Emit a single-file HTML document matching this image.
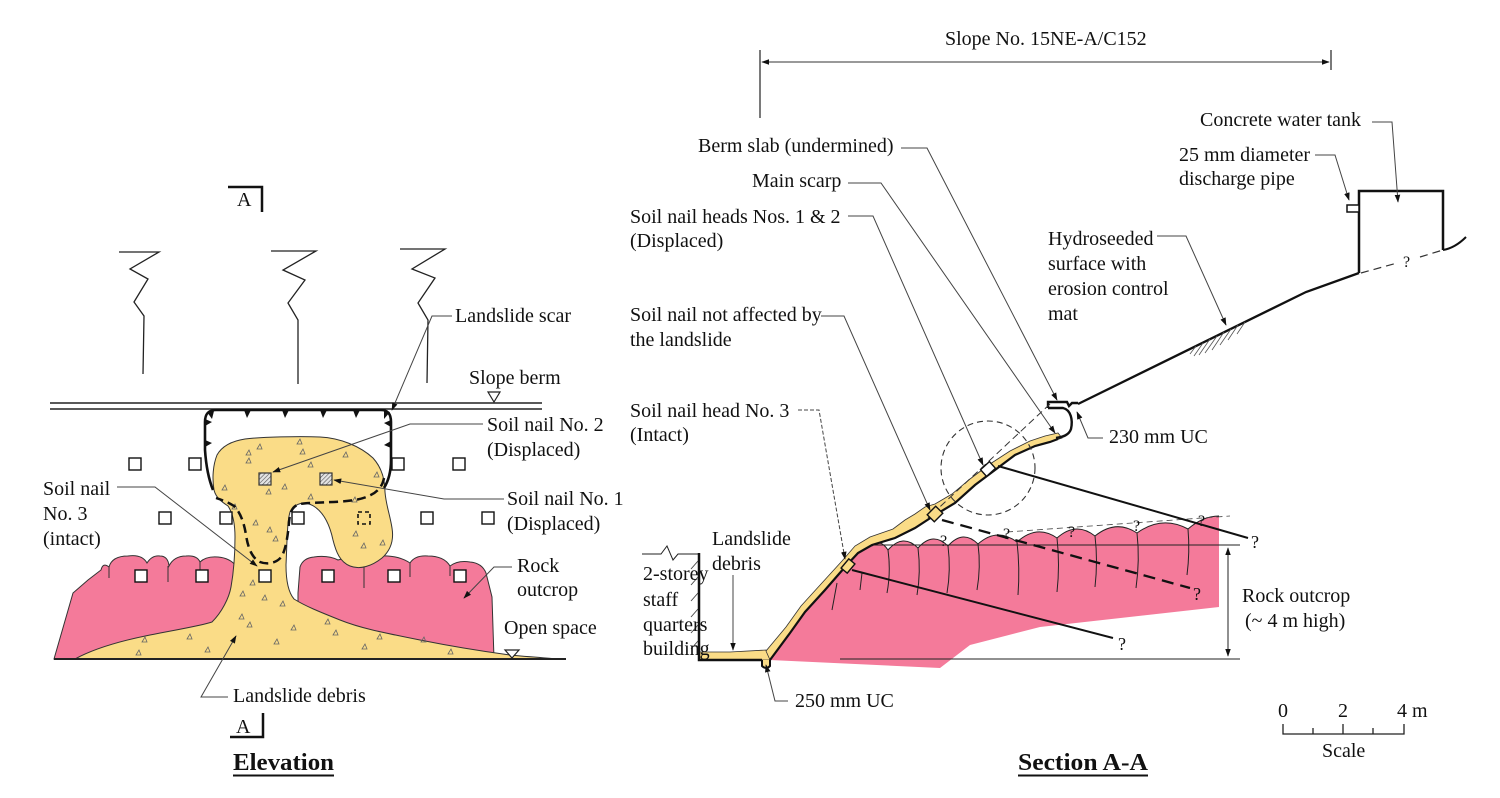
<!DOCTYPE html>
<html><head><meta charset="utf-8">
<style>
html,body{margin:0;padding:0;background:#fff;}
svg{display:block;}
text{font-family:"Liberation Serif","Times New Roman",serif;font-size:20px;fill:#111;}
.b{font-weight:bold;font-size:24px;}
.q{font-size:18px;}
.qs{font-size:16px;}
</style></head><body>
<svg width="1500" height="798" viewBox="0 0 1500 798" xmlns="http://www.w3.org/2000/svg">
<defs>
<marker id="ar" viewBox="0 0 10 10" refX="9" refY="5" markerWidth="8" markerHeight="8" orient="auto" markerUnits="userSpaceOnUse">
<path d="M0,1.5 L10,5 L0,8.5 z" fill="#111"/>
</marker>
<marker id="ars" viewBox="0 0 10 10" refX="1" refY="5" markerWidth="8" markerHeight="8" orient="auto" markerUnits="userSpaceOnUse">
<path d="M10,1.5 L0,5 L10,8.5 z" fill="#111"/>
</marker>
<pattern id="h" width="3" height="3" patternUnits="userSpaceOnUse" patternTransform="rotate(45)">
<rect width="3" height="3" fill="#e4e4e4"/><line x1="0" y1="0" x2="0" y2="3" stroke="#555" stroke-width="1.2"/>
</pattern>
</defs>
<rect width="1500" height="798" fill="#fff"/>

<!-- ================= ELEVATION ================= -->
<polyline points="228,187 262,187 262,212" fill="none" stroke="#111" stroke-width="2.5"/>
<text x="237" y="206">A</text>

<g fill="none" stroke="#222" stroke-width="1.3">
<polyline points="119,252 159,252 130,269 148,279 134,302 144,316 143,374"/>
<polyline points="271,251 316,251 283,270 305,280 288,303 298,320 298,384"/>
<polyline points="400,249 445,249 412,269 435,278 418,303 428,320 427,383"/>
</g>

<line x1="50" y1="403" x2="542" y2="403" stroke="#222" stroke-width="1.5"/>
<line x1="50" y1="409" x2="542" y2="409" stroke="#222" stroke-width="1.5"/>
<polygon points="488,392 500,392 494,402" fill="#fff" stroke="#222" stroke-width="1.2"/>

<path d="M54,659 L73,593 L88,580 L101,570 Q103,562 109,567 Q112,556 128,556 Q142,554 147,563 Q152,555 160,556 Q168,556 169,566 Q174,556 186,556 Q197,555 200,562 Q206,556 218,557 Q230,558 236,566 L236,659 Z" fill="#F47A9A" stroke="#333" stroke-width="1"/>
<path d="M298,659 L298,593 L300,567 Q303,558 314,557 Q328,555 338,560 Q350,556 360,563 Q364,556 380,556 Q398,555 410,563 Q415,555 428,556 Q444,556 450,566 Q458,560 470,562 Q482,563 486,573 L492,597 L494,659 Z" fill="#F47A9A" stroke="#333" stroke-width="1"/>
<g stroke="#333" stroke-width="1" fill="none">
<line x1="109" y1="567" x2="109" y2="578"/>
<line x1="168" y1="566" x2="168" y2="582"/>
<line x1="200" y1="562" x2="200" y2="571"/>
<line x1="364" y1="566" x2="364" y2="588"/>
<line x1="410" y1="563" x2="410" y2="577"/>
<line x1="450" y1="566" x2="450" y2="576"/>
</g>

<path d="M75,659 C95,648 125,640 150,635 C175,630 200,626 212,622 C222,612 229,598 231,587 C234,570 235,550 235,537 C235,522 232,512 228,506 C222,502 216,498 214,490 C212,478 213,465 217,455 C222,446 232,441 245,439 C260,437 300,436 320,437 C340,438 360,446 373,458 C382,468 385,480 385,492 C386,505 390,515 392,528 C394,540 391,550 382,558 C372,566 360,570 350,566 C340,562 336,552 333,540 C330,526 325,514 315,507 C305,500 295,503 290,512 C287,522 287,545 286,565 C286,580 288,592 294,599 C305,606 320,612 340,620 C360,628 380,632 420,640 C450,646 480,651 510,655 C530,657 548,658 559,659 Z" fill="#FADC87" stroke="#333" stroke-width="1"/>
<g fill="none" stroke="#666" stroke-width="0.8">
<path d="M246,455 l5,0 l-2,-5z"/><path d="M257,449 l5,0 l-2,-5z"/><path d="M297,444 l5,0 l-2,-5z"/><path d="M300,454 l5,0 l-2,-5z"/>
<path d="M246,463 l5,0 l-2,-5z"/><path d="M308,467 l5,0 l-2,-5z"/><path d="M343,457 l5,0 l-2,-5z"/><path d="M374,477 l5,0 l-2,-5z"/>
<path d="M282,489 l5,0 l-2,-5z"/><path d="M222,490 l5,0 l-2,-5z"/><path d="M266,494 l5,0 l-2,-5z"/><path d="M308,499 l5,0 l-2,-5z"/>
<path d="M352,502 l5,0 l-2,-5z"/><path d="M253,525 l5,0 l-2,-5z"/><path d="M267,532 l5,0 l-2,-5z"/><path d="M273,541 l5,0 l-2,-5z"/>
<path d="M353,536 l5,0 l-2,-5z"/><path d="M361,548 l5,0 l-2,-5z"/><path d="M380,545 l5,0 l-2,-5z"/><path d="M232,509 l5,0 l-2,-5z"/>
<path d="M250,585 l5,0 l-2,-5z"/><path d="M240,596 l5,0 l-2,-5z"/><path d="M262,600 l5,0 l-2,-5z"/><path d="M280,606 l5,0 l-2,-5z"/>
<path d="M239,619 l5,0 l-2,-5z"/><path d="M247,627 l5,0 l-2,-5z"/><path d="M291,630 l5,0 l-2,-5z"/><path d="M325,624 l5,0 l-2,-5z"/>
<path d="M187,639 l5,0 l-2,-5z"/><path d="M142,642 l5,0 l-2,-5z"/><path d="M205,652 l5,0 l-2,-5z"/><path d="M136,655 l5,0 l-2,-5z"/>
<path d="M274,644 l5,0 l-2,-5z"/><path d="M333,635 l5,0 l-2,-5z"/><path d="M377,639 l5,0 l-2,-5z"/><path d="M362,649 l5,0 l-2,-5z"/>
<path d="M421,642 l5,0 l-2,-5z"/><path d="M448,654 l5,0 l-2,-5z"/>
</g>

<line x1="54" y1="659" x2="566" y2="659" stroke="#222" stroke-width="2"/>
<polygon points="505,650 519,650 512,658" fill="#fff" stroke="#222" stroke-width="1.2"/>

<path d="M384,478 C382,490 372,497 355,500 C335,503 310,502 300,504 C292,506 290,512 289,522 C288,535 286,548 282,556 C277,563 268,565 260,562 C252,558 248,548 246,535 C244,522 240,512 234,506 C228,502 222,500 216,498" fill="none" stroke="#111" stroke-width="2.5" stroke-dasharray="9,5"/>

<path d="M213,490 C209,480 206,465 205,450 L205,422 C205,413 209,410 216,410 L381,410 C388,410 391,414 391,422 L391,460 C391,470 389,480 384,488" fill="none" stroke="#111" stroke-width="2.6"/>
<g fill="#111">
<polygon points="244,410 251,410 247,418"/>
<polygon points="282,410 289,410 285,418"/>
<polygon points="320,410 327,410 323,418"/>
<polygon points="353,410 360,410 356,418"/>
<polygon points="207,412 214,411 212,419"/>
<polygon points="384,411 390,412 384,419"/>
<polygon points="205,419 205,426 212,422"/>
<polygon points="205,440 205,447 212,443"/>
<polygon points="391,420 391,427 384,423"/>
<polygon points="391,441 391,448 384,445"/>
</g>

<g fill="#fff" stroke="#111" stroke-width="1.4">
<rect x="129" y="458" width="12" height="12"/>
<rect x="189" y="458" width="12" height="12"/>
<rect x="392" y="458" width="12" height="12"/>
<rect x="453" y="458" width="12" height="12"/>
<rect x="159" y="512" width="12" height="12"/>
<rect x="220" y="512" width="12" height="12"/>
<rect x="292" y="512" width="12" height="12"/>
<rect x="421" y="512" width="12" height="12"/>
<rect x="482" y="512" width="12" height="12"/>
<rect x="135" y="570" width="12" height="12"/>
<rect x="196" y="570" width="12" height="12"/>
<rect x="259" y="570" width="12" height="12"/>
<rect x="322" y="570" width="12" height="12"/>
<rect x="388" y="570" width="12" height="12"/>
<rect x="454" y="570" width="12" height="12"/>
</g>
<rect x="358" y="512" width="12" height="12" fill="none" stroke="#111" stroke-width="1.6" stroke-dasharray="4,3"/>
<rect x="259" y="473" width="12" height="12" fill="url(#h)" stroke="#333" stroke-width="1.2"/>
<rect x="320" y="473" width="12" height="12" fill="url(#h)" stroke="#333" stroke-width="1.2"/>

<g fill="none" stroke="#444" stroke-width="1">
<path d="M452,316 L432,316 L392,410" marker-end="url(#ar)"/>
<path d="M483,424 L410,424 L273,472" marker-end="url(#ar)"/>
<path d="M504,499 L444,499 L334,480" marker-end="url(#ar)"/>
<path d="M117,487 L155,487 L257,566" marker-end="url(#ar)"/>
<path d="M512,567 L494,567 L464,598" marker-end="url(#ar)"/>
<path d="M228,697 L201,697 L236,636" marker-end="url(#ar)"/>
</g>

<text x="455" y="322">Landslide scar</text>
<text x="469" y="384">Slope berm</text>
<text x="487" y="431">Soil nail No. 2</text>
<text x="487" y="456">(Displaced)</text>
<text x="507" y="505">Soil nail No. 1</text>
<text x="507" y="530">(Displaced)</text>
<text x="43" y="495">Soil nail</text>
<text x="43" y="520">No. 3</text>
<text x="43" y="545">(intact)</text>
<text x="517" y="572">Rock</text>
<text x="517" y="596">outcrop</text>
<text x="504" y="634">Open space</text>
<text x="233" y="702">Landslide debris</text>

<polyline points="263,713 263,737 230,737" fill="none" stroke="#111" stroke-width="2.5"/>
<text x="236" y="733">A</text>
<text class="b" x="233" y="770" textLength="101" lengthAdjust="spacingAndGlyphs">Elevation</text>
<line x1="233" y1="775.5" x2="334" y2="775.5" stroke="#111" stroke-width="2"/>

<!-- ================= SECTION A-A ================= -->
<text x="945" y="45">Slope No. 15NE-A/C152</text>
<line x1="762" y1="62" x2="1329" y2="62" stroke="#333" stroke-width="1" marker-start="url(#ars)" marker-end="url(#ar)"/>
<line x1="760" y1="50" x2="760" y2="118" stroke="#222" stroke-width="1.2"/>
<line x1="1331" y1="50" x2="1331" y2="70" stroke="#222" stroke-width="1.2"/>

<!-- pink rock in section -->
<path d="M770,660 L790,633 L805,612 L825,590 L845,567 L858,553 L872,546 Q880,538 888,550 Q903,533 918,548 Q933,531 948,546 Q963,529 978,544 Q997,527 1017,542 Q1037,524 1057,538 Q1076,521 1095,536 Q1116,519 1137,533 Q1162,515 1188,529 Q1203,516 1219,516 L1219,607 L1040,627 L970,645 L940,668 Z" fill="#F47A9A"/>
<g fill="none" stroke="#222" stroke-width="1">
<path d="M872,546 Q880,538 888,550 Q903,533 918,548 Q933,531 948,546 Q963,529 978,544 Q997,527 1017,542 Q1037,524 1057,538 Q1076,521 1095,536 Q1116,519 1137,533 Q1162,515 1188,529 Q1203,516 1219,516"/>
<path d="M888,550 Q891,572 887,593"/>
<path d="M918,548 Q921,572 917,595"/>
<path d="M948,546 Q951,570 947,593"/>
<path d="M978,544 Q981,567 977,590"/>
<path d="M1017,542 Q1020,568 1018,595"/>
<path d="M1057,538 Q1060,565 1057,592"/>
<path d="M1095,536 Q1098,561 1095,587"/>
<path d="M1137,533 Q1140,560 1136,588"/>
<path d="M1188,529 Q1190,552 1187,575"/>
<path d="M832,610 L837,583"/>
<path d="M860,590 L862,573"/>
</g>
<line x1="1007" y1="532" x2="1230" y2="516" stroke="#444" stroke-width="0.8" stroke-dasharray="6,4"/>
<text class="qs" x="940" y="546">?</text>
<text class="qs" x="1003" y="539">?</text>
<text class="qs" x="1068" y="537">?</text>
<text class="qs" x="1133" y="531">?</text>
<text class="qs" x="1198" y="526">?</text>

<line x1="858" y1="545" x2="1240" y2="545" stroke="#222" stroke-width="1"/>
<line x1="840" y1="659" x2="1240" y2="659" stroke="#222" stroke-width="1"/>
<line x1="1228" y1="548" x2="1228" y2="656" stroke="#222" stroke-width="1" marker-start="url(#ars)" marker-end="url(#ar)"/>

<!-- building -->
<polyline points="642,554 661,554 667,546 673,560 678,554 699,554" fill="none" stroke="#222" stroke-width="1"/>
<g stroke="#444" stroke-width="0.9">
<line x1="691" y1="569" x2="698" y2="561"/>
<line x1="691" y1="585" x2="698" y2="577"/>
<line x1="691" y1="601" x2="698" y2="593"/>
<line x1="691" y1="617" x2="698" y2="609"/>
<line x1="691" y1="633" x2="698" y2="625"/>
<line x1="691" y1="649" x2="698" y2="641"/>
</g>

<!-- yellow debris section -->
<path d="M699,652 L730,652 L766,650 L772,656 L770,660 L699,660 Z" fill="#FADC87" stroke="#333" stroke-width="0.8"/>
<path d="M770,660 L790,633 L805,612 L825,590 L845,567 L858,553 L872,545 L895,538 L915,528 L935,515 L955,503 L975,485 L995,470 L1015,455 L1035,446 L1050,442 L1062,438 L1058,433 L1045,436 L1030,441 L1010,451 L990,464 L970,479 L952,494 L935,504 L925,507 L915,514 L905,520 L893,529 L870,537 L855,546 L842,561 L821,584 L801,606 L786,627 L766,651 Z" fill="#FADC87" stroke="#333" stroke-width="0.8"/>
<polyline points="699,553 699,660 762,660" fill="none" stroke="#111" stroke-width="2.5"/>
<path d="M762,660 L762,666 Q766,670 770,666 L770,660" fill="#FADC87" stroke="#111" stroke-width="2"/>
<polyline points="770,660 790,633 805,612 825,590 845,567 858,553 872,545 895,538 915,528 935,515 955,503 975,485 995,470 1015,455 1035,446 1050,442 1058,439" fill="none" stroke="#111" stroke-width="2.2"/>

<!-- UC 230 / drain -->
<path d="M1048,408 L1048,402 L1067,402 L1069,406 L1072,403 L1078,403" fill="none" stroke="#111" stroke-width="2.4"/>
<path d="M1048,408 L1063,408 C1071,410 1073,420 1071,429 C1069,435 1063,437 1056,438" fill="none" stroke="#111" stroke-width="2.4"/>

<!-- slope upper -->
<polyline points="1078,404 1306,292 1359,273" fill="none" stroke="#111" stroke-width="2.3"/>
<g stroke="#555" stroke-width="0.8">
<line x1="1196" y1="346" x2="1190" y2="354"/>
<line x1="1203" y1="343" x2="1194" y2="356"/>
<line x1="1210" y1="339" x2="1199" y2="355"/>
<line x1="1217" y1="336" x2="1205" y2="353"/>
<line x1="1224" y1="332" x2="1212" y2="350"/>
<line x1="1231" y1="329" x2="1220" y2="345"/>
<line x1="1238" y1="325" x2="1228" y2="340"/>
<line x1="1245" y1="322" x2="1237" y2="334"/>
</g>

<!-- tank -->
<polyline points="1359,273 1359,191 1443,191 1443,250" fill="none" stroke="#111" stroke-width="2.5"/>
<rect x="1347" y="205" width="12" height="7" fill="#fff" stroke="#111" stroke-width="1.5"/>
<path d="M1443,250 Q1455,248 1466,237" fill="none" stroke="#111" stroke-width="2"/>
<path d="M1361,273 L1397,263 M1420,257 L1443,250" fill="none" stroke="#333" stroke-width="1.2" stroke-dasharray="8,5"/>
<text class="qs" x="1403" y="267">?</text>

<circle cx="988" cy="468" r="47" fill="none" stroke="#333" stroke-width="1.1" stroke-dasharray="6,4"/>
<line x1="1050" y1="404" x2="928" y2="518" stroke="#333" stroke-width="1" stroke-dasharray="7,4"/>

<!-- nails -->
<line x1="998" y1="466" x2="1248" y2="538" stroke="#111" stroke-width="2"/>
<line x1="942" y1="520" x2="1190" y2="588" stroke="#111" stroke-width="2.3" stroke-dasharray="12,7"/>
<line x1="852" y1="570" x2="1113" y2="638" stroke="#111" stroke-width="2"/>
<rect x="-6" y="-4.5" width="12" height="9" transform="translate(988,469) rotate(-42)" fill="#fff" stroke="#111" stroke-width="1.4"/>
<rect x="-6" y="-5" width="12" height="10" transform="translate(935,514) rotate(-45)" fill="#FADC87" stroke="#111" stroke-width="1.4"/>
<rect x="-6" y="-4" width="12" height="8" transform="translate(848,566) rotate(-50)" fill="#FADC87" stroke="#111" stroke-width="1.4"/>
<text class="q" x="1251" y="548">?</text>
<text class="q" x="1193" y="600">?</text>
<text class="q" x="1118" y="650">?</text>

<g fill="none" stroke="#444" stroke-width="1">
<path d="M901,148 L927,148 L1057,400" marker-end="url(#ar)"/>
<path d="M848,183 L881,183 L1055,433" marker-end="url(#ar)"/>
<path d="M848,216 L873,216 L983,465" marker-end="url(#ar)"/>
<path d="M821,316 L844,316 L930,510" marker-end="url(#ar)"/>
<path d="M1372,122 L1392,122 L1398,202" marker-end="url(#ar)"/>
<path d="M1315,155 L1335,155 L1349,200" marker-end="url(#ar)"/>
<path d="M1157,236 L1186,236 L1226,325" marker-end="url(#ar)"/>
<path d="M1103,438 L1088,438 L1077,412" marker-end="url(#ar)"/>
<path d="M733,575 L733,650" marker-end="url(#ar)"/>
<path d="M788,701 L775,701 L766,665" marker-end="url(#ar)"/>
</g>
<path d="M798,410 L819,410 L845,559" fill="none" stroke="#444" stroke-width="1" stroke-dasharray="4,2" marker-end="url(#ar)"/>

<text x="698" y="152">Berm slab (undermined)</text>
<text x="752" y="187">Main scarp</text>
<text x="630" y="223">Soil nail heads Nos. 1 &amp; 2</text>
<text x="630" y="247">(Displaced)</text>
<text x="630" y="321">Soil nail not affected by</text>
<text x="630" y="346">the landslide</text>
<text x="630" y="417">Soil nail head No. 3</text>
<text x="630" y="441">(Intact)</text>
<text x="1200" y="126">Concrete water tank</text>
<text x="1179" y="161">25 mm diameter</text>
<text x="1179" y="185">discharge pipe</text>
<text x="1048" y="245">Hydroseeded</text>
<text x="1048" y="270">surface with</text>
<text x="1048" y="295">erosion control</text>
<text x="1048" y="320">mat</text>
<text x="1109" y="443">230 mm UC</text>
<text x="712" y="545">Landslide</text>
<text x="712" y="570">debris</text>
<text x="643" y="580">2-storey</text>
<text x="643" y="606">staff</text>
<text x="643" y="631">quarters</text>
<text x="643" y="655">building</text>
<text x="795" y="707">250 mm UC</text>
<text x="1242" y="602">Rock outcrop</text>
<text x="1245" y="627">(~ 4 m high)</text>

<text x="1278" y="717">0</text>
<text x="1338" y="717">2</text>
<text x="1397" y="717">4 m</text>
<g stroke="#222" stroke-width="1.3" fill="none">
<polyline points="1283,724 1283,734 1404,734 1404,724"/>
<line x1="1313" y1="728" x2="1313" y2="734"/>
<line x1="1343" y1="724" x2="1343" y2="734"/>
<line x1="1373" y1="728" x2="1373" y2="734"/>
</g>
<text x="1322" y="757">Scale</text>

<text class="b" x="1018" y="770" textLength="130" lengthAdjust="spacingAndGlyphs">Section A-A</text>
<line x1="1018" y1="775.5" x2="1148" y2="775.5" stroke="#111" stroke-width="2"/>
</svg>
</body></html>
